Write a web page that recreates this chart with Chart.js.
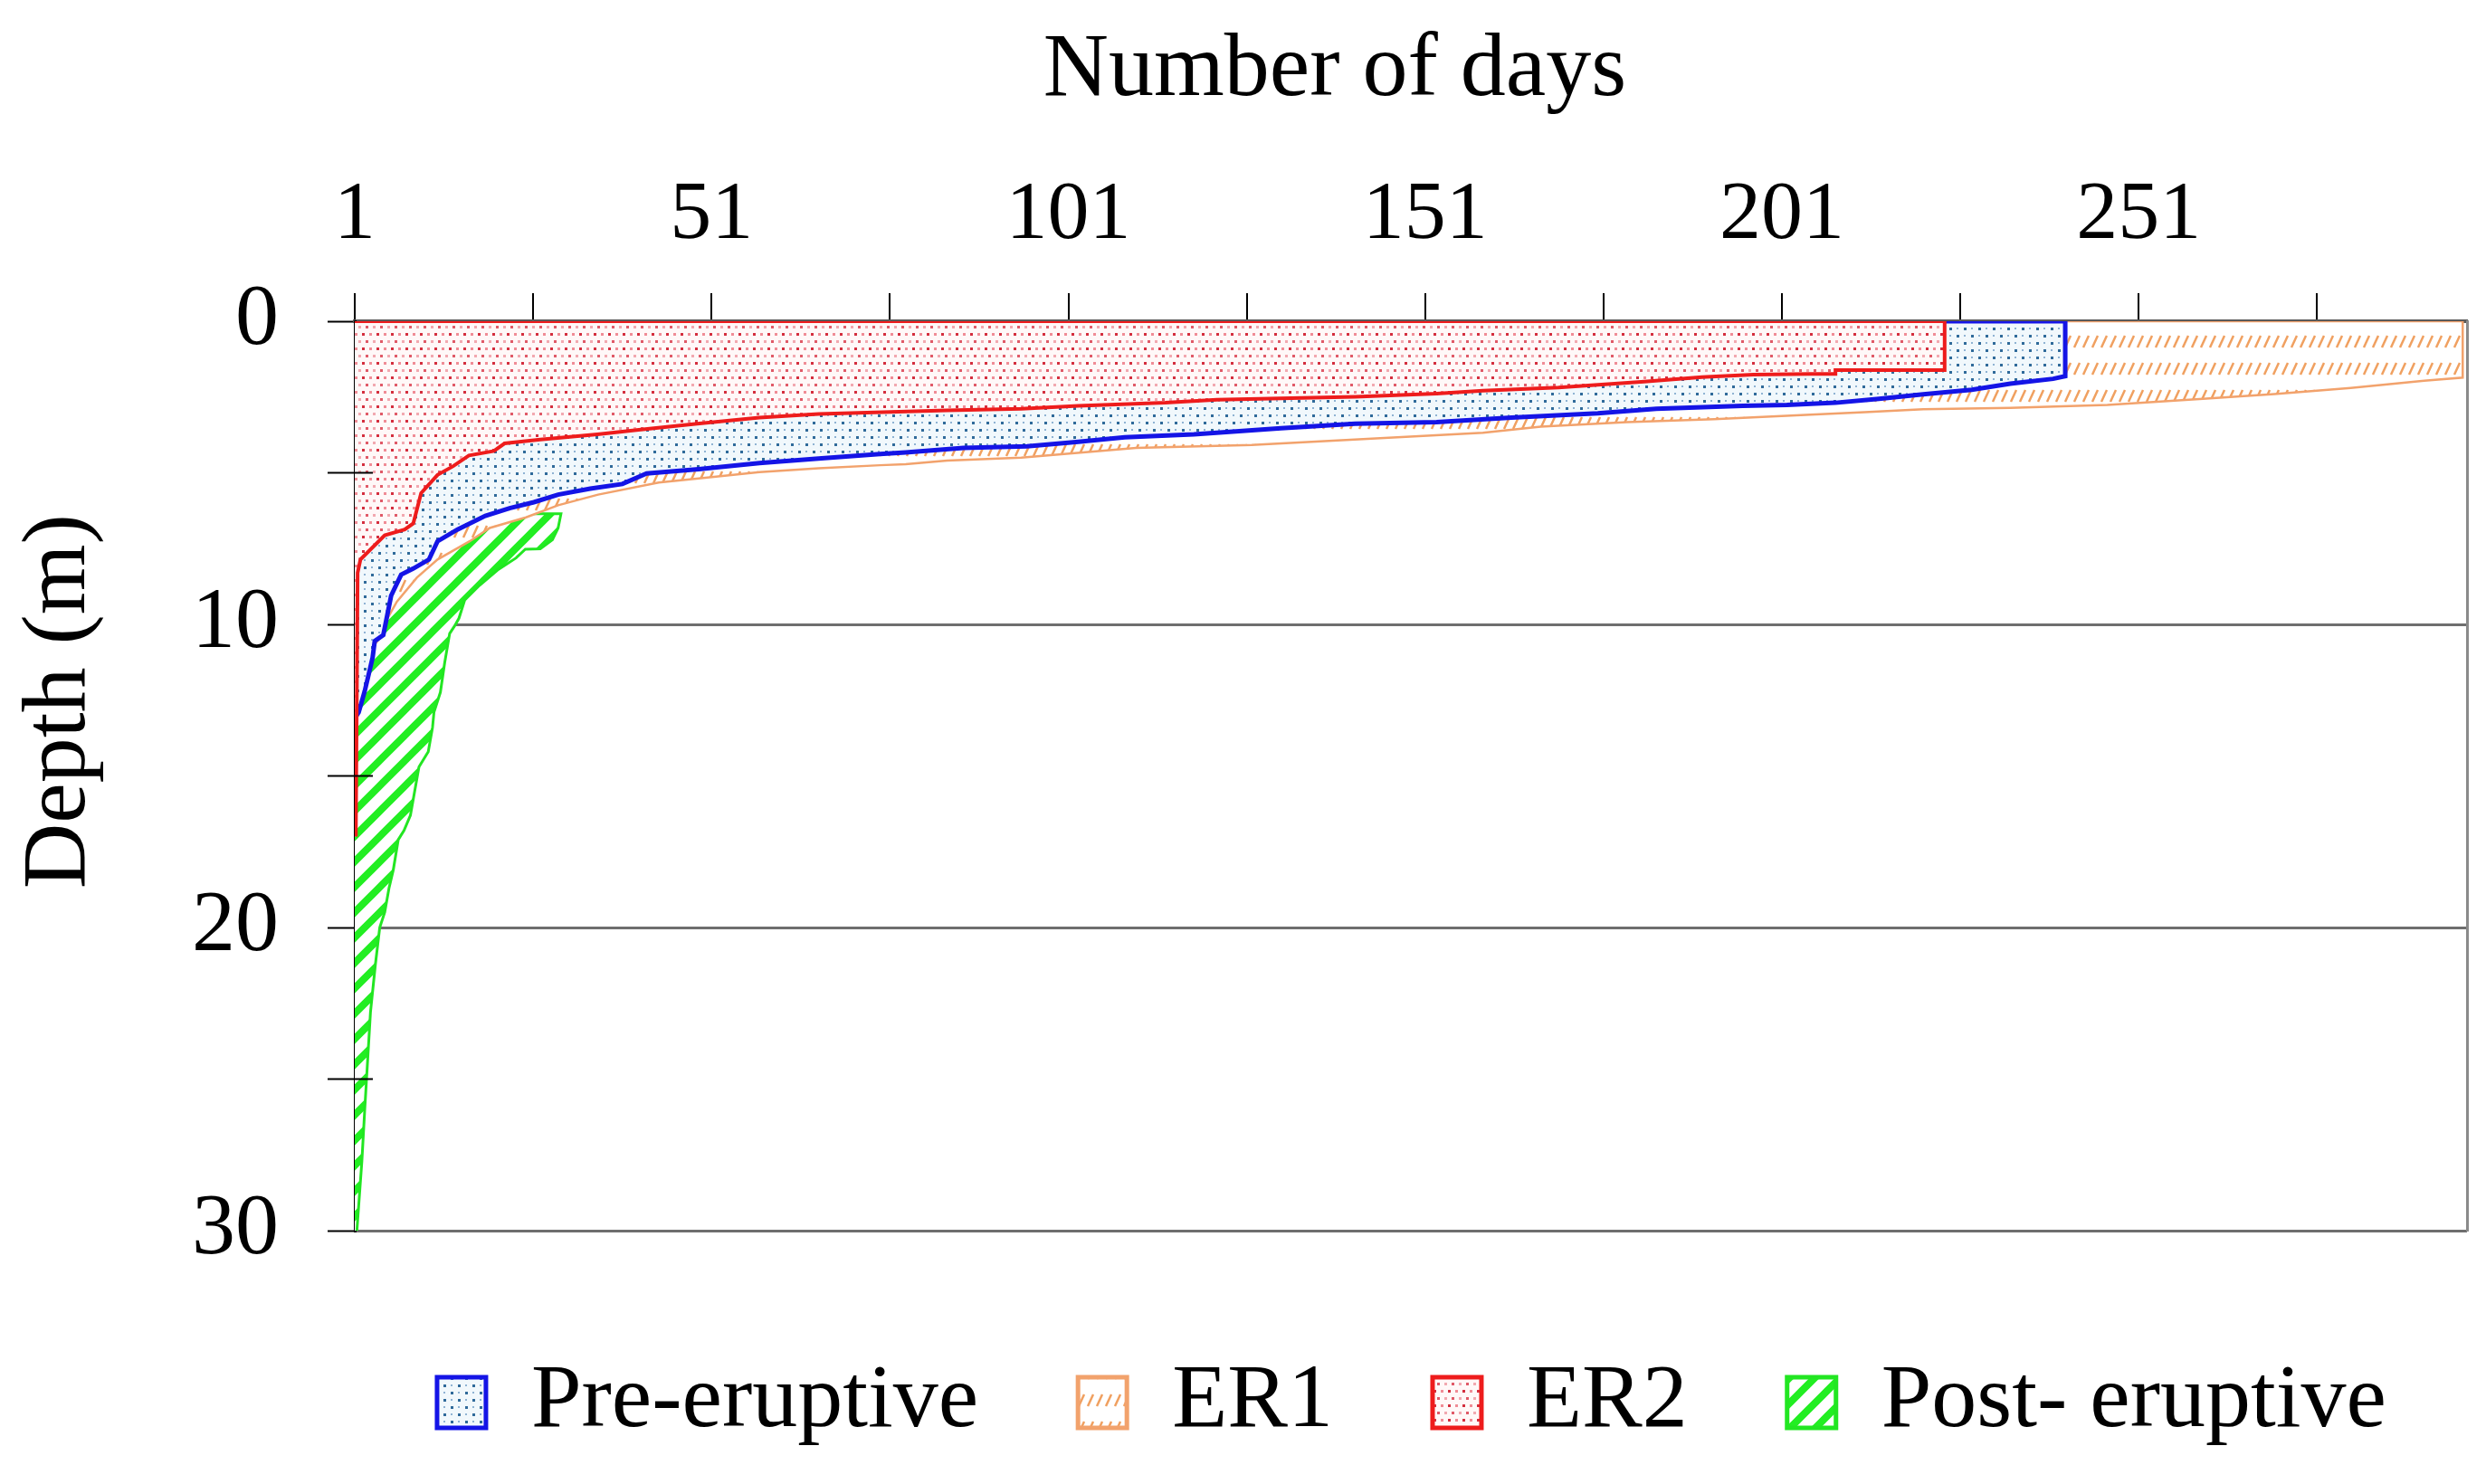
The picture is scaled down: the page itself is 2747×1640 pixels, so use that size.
<!DOCTYPE html>
<html>
<head>
<meta charset="utf-8">
<script src="https://cdn.jsdelivr.net/npm/chart.js@4.4.1/dist/chart.umd.min.js"></script>
<style>
    html, body { margin: 0; padding: 0; background: #fff; }
    canvas { display: block; }
</style>
</head>
<body>
<canvas id="grafico" width="2747" height="1640"></canvas>
<script>
// Marcas del eje de días (arriba) y cuáles llevan número
const diasTicks = [1, 26, 51, 76, 101, 126, 151, 176, 201, 226, 251, 276];
const diasEtiquetas = [1, 51, 101, 151, 201, 251];
// Etiquetas del eje de profundidad
const profEtiquetas = [0, 10, 20, 30];

// Pre-eruptive: número de días vs profundidad (m)
const preDias = [1, 240.7, 240.7, 239, 233, 227.6, 220.8, 214.6, 208.5, 201.7, 195.5, 183.4, 175.2, 163.1, 152.6, 141.2, 130.8, 118.6, 108.9, 102.4, 95.2, 86.3, 78.2, 74.6, 66, 57.7, 49.2, 41.9, 38.5, 34, 29.5, 26.1, 22.7, 19.3, 15.4, 12.6, 11.4, 9.2, 7.5, 6.1, 5, 3.8, 3.5, 2.4, 1.55, 1];
const preProf = [0, 0, 1.81, 1.9, 2.06, 2.26, 2.41, 2.56, 2.69, 2.76, 2.79, 2.89, 3.04, 3.18, 3.33, 3.38, 3.53, 3.73, 3.83, 3.98, 4.13, 4.18, 4.33, 4.38, 4.53, 4.68, 4.88, 5.02, 5.37, 5.52, 5.72, 5.97, 6.17, 6.42, 6.87, 7.26, 7.86, 8.16, 8.36, 9.05, 10.35, 10.55, 11.1, 12.2, 12.9, 13.1];

// ER1
const er1Dias = [1, 296.4, 296.4, 291, 280.7, 270, 260, 246.6, 233, 220.8, 212.6, 205, 191.5, 179.3, 167.2, 159.1, 142.9, 126.7, 110.5, 94.4, 84, 78.2, 74.6, 66, 57.7, 49.8, 43.6, 35.1, 29.5, 25, 19.9, 17.1, 12.6, 9.7, 6.9, 5, 4.5, 3.5, 2.5, 1.5, 1];
const er1Prof = [0, 0, 1.86, 1.96, 2.2, 2.4, 2.56, 2.76, 2.86, 2.9, 3.0, 3.08, 3.23, 3.33, 3.48, 3.68, 3.88, 4.08, 4.18, 4.5, 4.6, 4.72, 4.75, 4.85, 4.98, 5.17, 5.32, 5.72, 6.07, 6.47, 6.82, 7.26, 7.86, 8.46, 9.25, 10.05, 10.45, 10.75, 11.8, 12.8, 13.2];

// ER2
const er2Dias = [1, 223.8, 223.8, 208.5, 208.5, 205, 197, 189.8, 181.7, 169.7, 159.1, 152.6, 141.2, 121.8, 114.6, 102.4, 94.4, 84, 66, 57.7, 49, 40.8, 35, 27, 22, 20.5, 17, 14.8, 12.6, 10.3, 9.2, 8, 5.2, 1.8, 1.4, 1.3, 1.15];
const er2Prof = [0, 0, 1.61, 1.61, 1.74, 1.74, 1.76, 1.84, 1.99, 2.19, 2.29, 2.39, 2.49, 2.59, 2.69, 2.79, 2.89, 2.94, 3.06, 3.18, 3.38, 3.58, 3.73, 3.9, 4.03, 4.28, 4.43, 4.78, 5.07, 5.67, 6.67, 6.87, 7.06, 7.86, 8.3, 12, 17];

// Post-eruptive
const postDias = [1, 29.9, 29.5, 28.7, 27, 24.9, 23.6, 21, 18.5, 16.4, 15.6, 15, 14.3, 13.6, 13, 12.1, 11.9, 11.3, 10, 9.4, 8.8, 7.9, 7.1, 6.4, 5.8, 5.2, 4.5, 3.9, 3.2, 2.8, 2.4, 2, 1.3];
const postProf = [6.35, 6.35, 6.82, 7.21, 7.51, 7.52, 7.81, 8.21, 8.71, 9.2, 9.8, 10.05, 10.3, 11.27, 12.24, 12.9, 13.4, 14.2, 14.7, 15.5, 16.3, 16.8, 17.1, 18.1, 18.7, 19.5, 20, 21.2, 22.8, 24.4, 26, 27.7, 30];

Chart.defaults.font.family = "'Liberation Serif', 'Times New Roman', serif";
Chart.defaults.color = '#000';

const lienzo = document.getElementById('grafico');
const ctxPrincipal = lienzo.getContext('2d');

// Une los arreglos de días y profundidad en puntos {x, y}
const puntos = (dias, prof) => dias.map((d, i) => ({ x: d, y: prof[i] }));

// Crea un patrón de relleno a partir de un pequeño lienzo
function crearPatron(ancho, alto, dibujar) {
    const c = document.createElement('canvas');
    c.width = ancho;
    c.height = alto;
    dibujar(c.getContext('2d'));
    return ctxPrincipal.createPattern(c, 'repeat');
}

// Puntos rojos de varios tonos sobre fondo blanco (ER2)
const patronER2 = crearPatron(16, 16, g => {
    g.fillStyle = '#fff8f8';
    g.fillRect(0, 0, 16, 16);
    g.fillStyle = '#d42e3e';
    g.fillRect(0, 0, 3, 3);
    g.fillStyle = '#f08c96';
    g.fillRect(8, 0, 3, 3);
    g.fillStyle = '#e05a68';
    g.fillRect(4, 8, 3, 3);
    g.fillStyle = '#f2a8b0';
    g.fillRect(12, 8, 3, 3);
});

// Puntos azules sobre fondo celeste (Pre-eruptive)
const patronPre = crearPatron(16, 16, g => {
    g.fillStyle = '#f1f8fc';
    g.fillRect(0, 0, 16, 16);
    g.fillStyle = '#2f6a9a';
    g.fillRect(2, 2, 3, 3);
    g.fillRect(10, 10, 3, 3);
    g.fillStyle = '#8fb3d3';
    g.fillRect(10, 2, 2, 2);
    g.fillRect(2, 10, 2, 2);
});

// Rayitas diagonales naranjas (ER1)
const patronER1 = crearPatron(10, 30, g => {
    g.fillStyle = '#ffffff';
    g.fillRect(0, 0, 10, 30);
    g.strokeStyle = '#f0a060';
    g.lineWidth = 2.5;
    g.beginPath();
    g.moveTo(2, 24);
    g.lineTo(8, 11);
    g.stroke();
});

// Franjas diagonales verdes (Post-eruptive)
const patronPost = crearPatron(28, 28, g => {
    g.fillStyle = '#ffffff';
    g.fillRect(0, 0, 28, 28);
    g.strokeStyle = '#22ee22';
    g.lineWidth = 8;
    g.beginPath();
    g.moveTo(0, 28); g.lineTo(28, 0);
    g.moveTo(-14, 14); g.lineTo(14, -14);
    g.moveTo(14, 42); g.lineTo(42, 14);
    g.stroke();
});

// Títulos de los ejes y marcas menores que cruzan el eje
const titulos = {
    id: 'titulos',
    afterDraw(chart) {
        const { ctx, chartArea: ca } = chart;
        const esc = chart.scales.y;
        ctx.save();
        ctx.strokeStyle = '#000';
        ctx.lineWidth = 2;
        esc.ticks.forEach(t => {
            if (t.value % 10 !== 0) {
                const py = esc.getPixelForValue(t.value);
                ctx.beginPath();
                ctx.moveTo(ca.left, py);
                ctx.lineTo(ca.left + 20, py);
                ctx.stroke();
            }
        });
        ctx.fillStyle = '#000';
        ctx.font = "100px 'Liberation Serif'";
        ctx.textAlign = 'center';
        ctx.textBaseline = 'alphabetic';
        ctx.fillText('Number of days', ca.left + 1083, 105);
        ctx.translate(93, ca.top + 420);
        ctx.rotate(-Math.PI / 2);
        ctx.fillText('Depth (m)', 0, 0);
        ctx.restore();
    }
};

new Chart(lienzo, {
    type: 'line',
    data: {
        datasets: [
            {
                label: 'Pre-eruptive',
                data: puntos(preDias, preProf),
                borderColor: '#1414e6',
                borderWidth: 5,
                backgroundColor: patronPre,
                fill: { value: 1 },
                order: 1
            },
            {
                label: 'ER1',
                data: puntos(er1Dias, er1Prof),
                borderColor: '#f2a26c',
                borderWidth: 2.5,
                backgroundColor: patronER1,
                fill: { value: 1 },
                order: 2
            },
            {
                label: 'ER2',
                data: puntos(er2Dias, er2Prof),
                borderColor: '#ee1c1c',
                borderWidth: 4,
                backgroundColor: patronER2,
                fill: { value: 1 },
                order: 0
            },
            {
                label: 'Post- eruptive',
                data: puntos(postDias, postProf),
                borderColor: '#22e622',
                borderWidth: 3,
                backgroundColor: patronPost,
                fill: { value: 1 },
                order: 3
            }
        ]
    },
    options: {
        responsive: false,
        devicePixelRatio: 1,
        animation: false,
        indexAxis: 'y',
        layout: { padding: { left: 200, right: 0, top: 0, bottom: 30 } },
        elements: { point: { radius: 0 }, line: { tension: 0 } },
        plugins: {
            tooltip: { enabled: false },
            legend: {
                position: 'bottom',
                align: 'end',
                // título vacío solo para bajar la fila de la leyenda
                title: { display: true, text: '', padding: 0, font: { size: 25 } },
                labels: {
                    font: { size: 100 },
                    color: '#000',
                    boxWidth: 54,
                    boxHeight: 56,
                    padding: 110,
                    sort: (a, b) => a.datasetIndex - b.datasetIndex,
                    generateLabels: chart => Chart.defaults.plugins.legend.labels.generateLabels(chart)
                        .map(l => ({ ...l, lineWidth: 5 }))
                }
            }
        },
        scales: {
            x: {
                type: 'linear',
                position: 'top',
                min: 1,
                max: 297,
                afterBuildTicks: s => { s.ticks = diasTicks.map(v => ({ value: v })); },
                afterFit: s => { s.height = 355; },
                ticks: {
                    autoSkip: false,
                    maxRotation: 0,
                    padding: 30,
                    font: { size: 92 },
                    color: '#000',
                    callback: v => diasEtiquetas.includes(v) ? String(v) : ''
                },
                grid: { drawOnChartArea: false, tickLength: 31, color: '#000', lineWidth: 2 },
                border: { color: '#5a5a5a', width: 4 }
            },
            y: {
                type: 'linear',
                position: 'left',
                reverse: true,
                min: 0,
                max: 30,
                afterFit: s => { s.width = 192; },
                ticks: {
                    stepSize: 5,
                    padding: 54,
                    font: { size: 96 },
                    color: '#000',
                    callback: v => profEtiquetas.includes(v) ? String(v) : ''
                },
                grid: {
                    color: c => (c.tick && c.tick.value % 10 === 0) ? '#6e6e6e' : 'rgba(0,0,0,0)',
                    tickColor: '#000',
                    tickLength: 30,
                    lineWidth: 3,
                    tickWidth: 2
                },
                border: { color: '#000', width: 3 }
            },
            y2: {
                type: 'linear',
                axis: 'y',
                position: 'right',
                reverse: true,
                min: 0,
                max: 30,
                afterFit: s => { s.width = 21; },
                ticks: { display: false },
                grid: { drawOnChartArea: false, drawTicks: false },
                border: { color: '#8a8a8a', width: 3 }
            }
        }
    },
    plugins: [titulos]
});
</script>
</body>
</html>
